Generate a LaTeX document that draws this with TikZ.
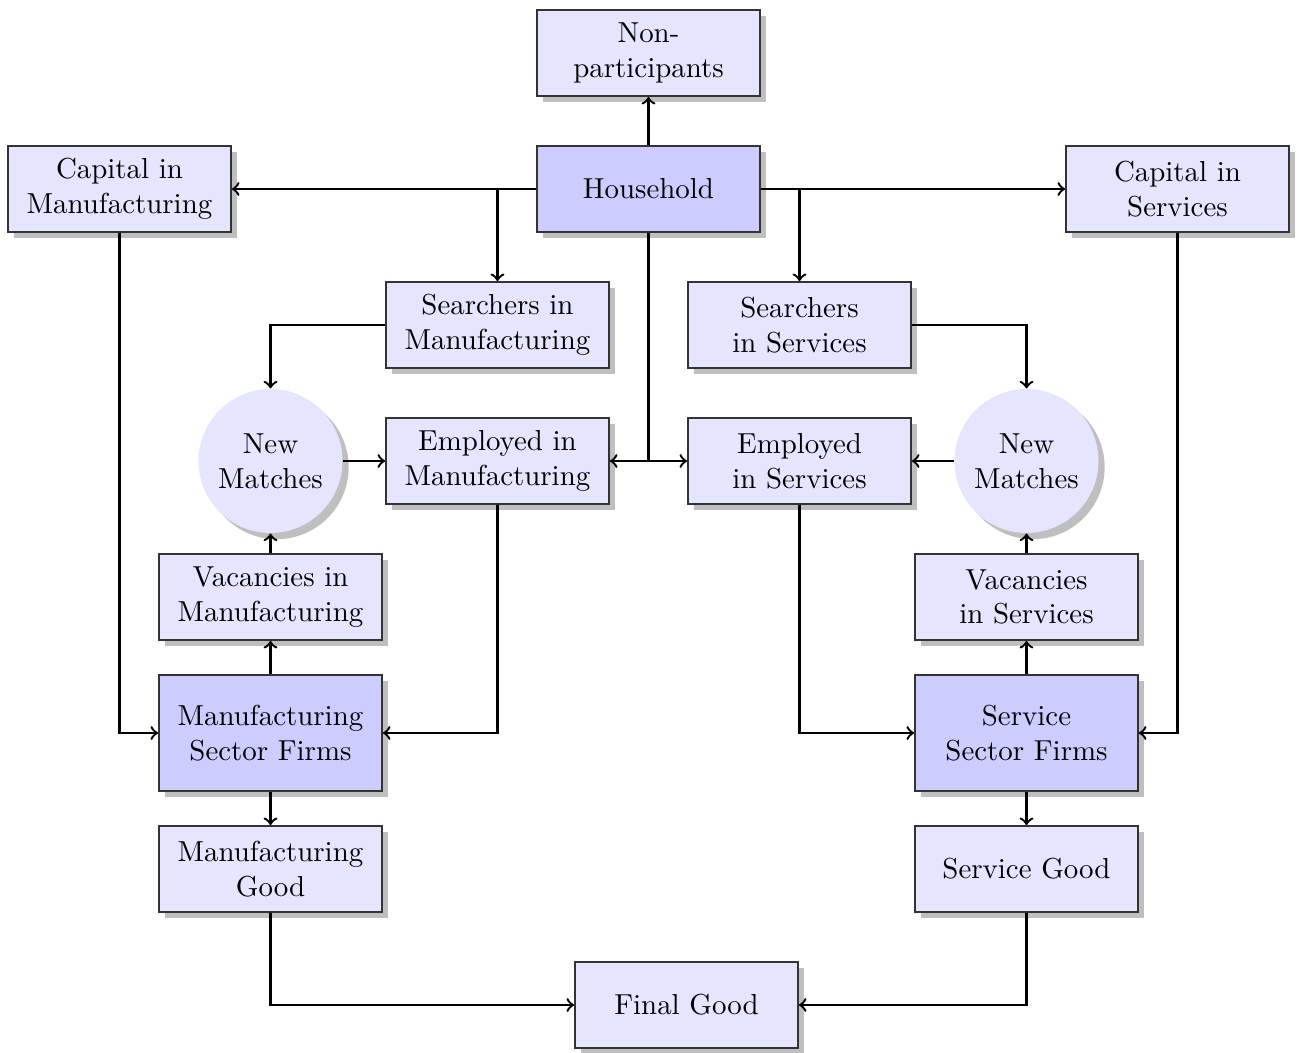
\documentclass[tikz,border=0pt]{standalone}
\usetikzlibrary{shadows}
\begin{document}
\begin{tikzpicture}[x=0.346pt,y=-0.346pt,
  box/.style={rectangle,draw=black!80,semithick,fill=blue!10,drop shadow,
    minimum width=77.2pt,minimum height=29.8pt,inner sep=0pt,align=center},
  firm/.style={box,fill=blue!20,minimum height=40.1pt},
  matchc/.style={circle,fill=blue!10,drop shadow,minimum size=49.8pt,inner sep=0pt,align=center},
  conn/.style={thick,->}]
\useasboundingbox (0,0) rectangle (1297,1053);
\node[box] (non) at (648.5,53) {Non-\\participants};
\node[firm,minimum height=29.8pt] (hh) at (648.5,189) {Household};
\node[box] (capm) at (119.5,189) {Capital in\\Manufacturing};
\node[box] (caps) at (1177.5,189) {Capital in\\Services};
\node[box] (searm) at (497.5,325) {Searchers in\\Manufacturing};
\node[box] (sears) at (799.5,325) {Searchers\\in Services};
\node[matchc] (nmm) at (270.5,461) {New\\Matches};
\node[matchc] (nms) at (1026.5,461) {New\\Matches};
\node[box] (empm) at (497.5,461) {Employed in\\Manufacturing};
\node[box] (emps) at (799.5,461) {Employed\\in Services};
\node[box] (vacm) at (270.5,597) {Vacancies in\\Manufacturing};
\node[box] (vacs) at (1026.5,597) {Vacancies\\in Services};
\node[firm] (firmm) at (270.5,733) {Manufacturing\\Sector Firms};
\node[firm] (firms) at (1026.5,733) {Service\\Sector Firms};
\node[box] (goodm) at (270.5,869) {Manufacturing\\Good};
\node[box] (goods) at (1026.5,869) {Service Good};
\node[box] (final) at (686.5,1005) {Final Good};
\coordinate (split) at (648.5,461);

\draw[conn] (hh.north) -- (non.south);
\draw[conn] (hh.west) -- (capm.east);
\draw[conn] (hh.west) -| (searm.north);
\draw[conn] (hh.east) -- (caps.west);
\draw[conn] (hh.east) -| (sears.north);
\draw[thick] (hh.south) -- (split);
\draw[conn] (split) -- (empm.east);
\draw[conn] (split) -- (emps.west);
\draw[conn] (searm.west) -| (nmm.north);
\draw[conn] (sears.east) -| (nms.north);
\draw[conn] (nmm.east) -- (empm.west);
\draw[conn] (nms.west) -- (emps.east);
\draw[conn] (vacm.north) -- (nmm.south);
\draw[conn] (vacs.north) -- (nms.south);
\draw[conn] (firmm.north) -- (vacm.south);
\draw[conn] (firms.north) -- (vacs.south);
\draw[conn] (capm.south) |- (firmm.west);
\draw[conn] (empm.south) |- (firmm.east);
\draw[conn] (emps.south) |- (firms.west);
\draw[conn] (caps.south) |- (firms.east);
\draw[conn] (firmm.south) -- (goodm.north);
\draw[conn] (firms.south) -- (goods.north);
\draw[conn] (goodm.south) |- (final.west);
\draw[conn] (goods.south) |- (final.east);
\end{tikzpicture}
\end{document}
